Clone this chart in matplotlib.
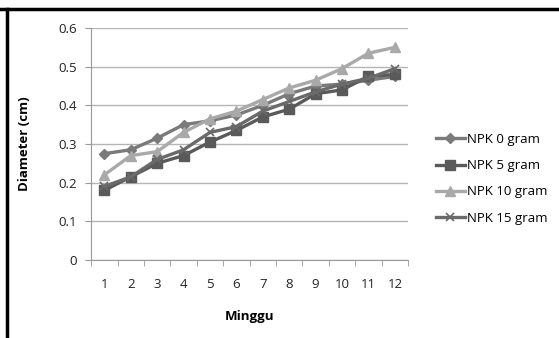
"""
Diameter growth per week for four NPK doses.
"""

import matplotlib

matplotlib.use("Agg")

import matplotlib.pyplot as plt
import numpy as np
from matplotlib.lines import Line2D

# =====================================================
# Data
# =====================================================

minggu = [1, 2, 3, 4, 5, 6, 7, 8, 9, 10, 11, 12]

npk_0 = [0.275, 0.285, 0.315, 0.35, 0.36, 0.375, 0.40, 0.43, 0.45, 0.455, 0.465, 0.475]
npk_5 = [0.18, 0.215, 0.25, 0.27, 0.305, 0.335, 0.37, 0.39, 0.43, 0.44, 0.475, 0.48]
npk_10 = [0.22, 0.27, 0.28, 0.33, 0.365, 0.385, 0.415, 0.445, 0.465, 0.495, 0.535, 0.55]
npk_15 = [0.19, 0.215, 0.26, 0.285, 0.33, 0.345, 0.385, 0.41, 0.435, 0.455, 0.47, 0.495]

series_labels = ["NPK 0 gram", "NPK 5 gram", "NPK 10 gram", "NPK 15 gram"]

y_ticks = [0, 0.1, 0.2, 0.3, 0.4, 0.5, 0.6]

# =====================================================
# Figure
# =====================================================

plt.rcParams["font.family"] = ["Open Sans", "DejaVu Sans"]

fig = plt.figure(figsize=(5.59, 3.38), dpi=100)

ax = fig.add_axes([0.163, 0.231, 0.567, 0.686])

styles = [
    dict(color="#7a7a7a", marker="D", markersize=5.5),
    dict(color="#5a5a5a", marker="s", markersize=7),
    dict(color="#a9a9a9", marker="^", markersize=7.5),
    dict(color="#6a6a6a", marker="x", markersize=6, markeredgewidth=1.2),
]

for values, label, style in zip(
    [npk_0, npk_5, npk_10, npk_15],
    series_labels,
    styles,
):
    ax.plot(
        minggu,
        values,
        linewidth=2.4,
        label=label,
        **style,
    )

ax.set_xlim(0.5, 12.5)
ax.set_ylim(0, 0.6)

ax.set_yticks(y_ticks)
ax.set_yticklabels(["0", "0.1", "0.2", "0.3", "0.4", "0.5", "0.6"])

ax.set_xticks(minggu)
ax.set_xticks(np.arange(0.5, 13, 1), minor=True)
ax.tick_params(axis="x", which="major", length=0, pad=13, labelsize=9.5, colors="#222222")
ax.tick_params(axis="x", which="minor", length=4, color="#999999")
ax.tick_params(axis="y", length=4, pad=6, color="#999999", labelsize=9.5, labelcolor="#222222")

ax.grid(axis="y", color="#b5b5b5", linewidth=1)
ax.set_axisbelow(True)

for side in ["top", "right"]:
    ax.spines[side].set_visible(False)
for side in ["left", "bottom"]:
    ax.spines[side].set_color("#999999")

ax.set_xlabel("Minggu", fontsize=9.5, fontweight="bold", labelpad=14)
ax.set_ylabel("Diameter (cm)", fontsize=9.5, fontweight="bold", labelpad=20)

ax.legend(
    loc="center left",
    bbox_to_anchor=(1.05, 0.35),
    frameon=False,
    fontsize=9.5,
    labelspacing=1.0,
    handlelength=2.2,
    handletextpad=0.2,
)

# Frame lines (top and left) of the original screenshot
fig.add_artist(Line2D([0, 1], [0.972, 0.972], color="black", linewidth=2.5, transform=fig.transFigure))
fig.add_artist(Line2D([0.013, 0.013], [0, 0.972], color="black", linewidth=2.5, transform=fig.transFigure))

fig.savefig("out.png", dpi=100)
